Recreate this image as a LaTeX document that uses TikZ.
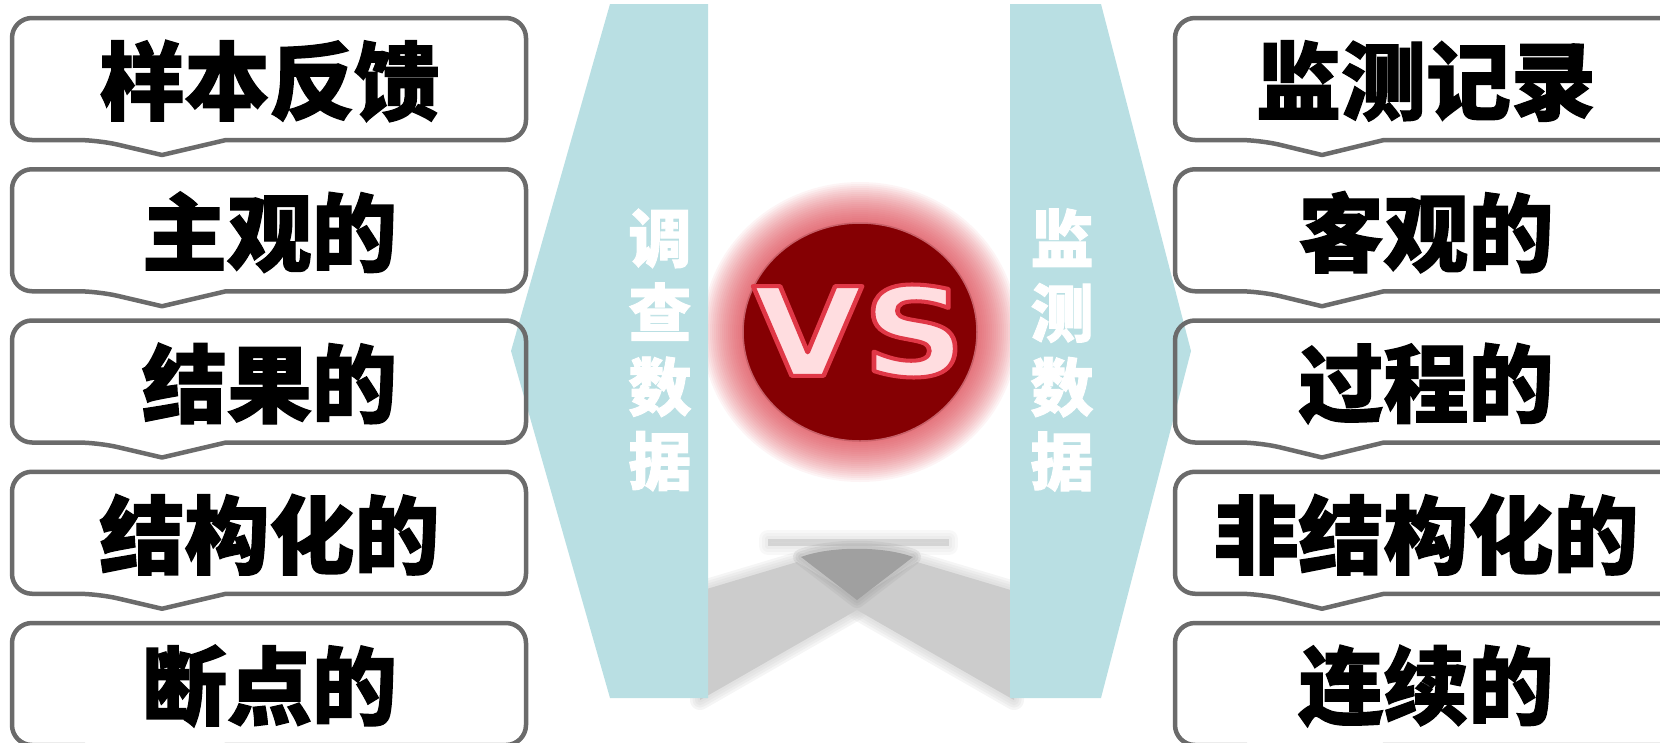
\documentclass[tikz,border=0pt]{standalone}
\usepackage{fontspec}
\newfontfamily\cjk{Noto Sans CJK SC}[BoldFeatures={FakeBold=1.5}]
\newfontfamily\vsfont{DejaVu Sans}
\definecolor{boxgray}{HTML}{6B6B6B}
\definecolor{paleblue}{HTML}{B9DFE3}
\definecolor{vsred}{HTML}{850003}
\definecolor{vsrim}{HTML}{C86068}
\definecolor{glowred}{HTML}{D8303C}
\definecolor{vspink}{HTML}{FFDDE0}
\definecolor{shlight}{HTML}{CCCCCC}
\definecolor{shstrip}{HTML}{C4C4C4}
\definecolor{shdark}{HTML}{A0A0A0}
\newcommand\vsglow[1]{\special{pdf:literal direct 2 Tr 4 w 1 j 0.88 0.22 0.28 RG}#1\special{pdf:literal direct 0 Tr}}
\tikzset{
  boxline/.style={draw=boxgray, line width=4.5pt, line join=round},
  boxtext/.style={font=\cjk\bfseries\fontsize{85}{85}\selectfont, text=black, inner sep=0pt},
  sidetext/.style={font=\cjk\bfseries\fontsize{63}{74.3}\selectfont, text=white, align=center, inner sep=0pt},
  vstext/.style={font=\vsfont\bfseries\fontsize{123}{123}\selectfont, inner sep=0pt},
  softedge/.style={line join=round},
}
\begin{document}
\begin{tikzpicture}[x=1pt,y=-1pt]
\useasboundingbox (0,0) rectangle (1660,742);
\clip (0,0) rectangle (1660,742);
% ---- shadow below the VS ----
\fill[shlight] (700,591) -- (797,562) -- (857,598) -- (857,610) -- (700,700) -- cycle;
\fill[shlight] (1014,591) -- (917,562) -- (857,598) -- (857,610) -- (1014,700) -- cycle;
\foreach \w in {20,15,10,5}{
  \draw[shlight, line width=\w pt, opacity=0.2, softedge] (700,591) -- (797,562) -- (857,598) -- (857,610) -- (700,700) -- cycle;
  \draw[shlight, line width=\w pt, opacity=0.2, softedge] (1014,591) -- (917,562) -- (857,598) -- (857,610) -- (1014,700) -- cycle;
}
\fill[shstrip, opacity=0.6] (768,539) -- (949,539) -- (949,546) -- (768,546) -- cycle;
\foreach \w in {18,12,6}{
  \draw[shstrip, line width=\w pt, opacity=0.12, softedge] (768,539) -- (949,539) -- (949,546) -- (768,546) -- cycle;
}
\fill[shdark] (801,557) .. controls (830,546) and (884,546) .. (913,557) -- (857,600) -- cycle;
\foreach \w in {16,11,6}{
  \draw[shdark, line width=\w pt, opacity=0.2, softedge] (801,557) .. controls (830,546) and (884,546) .. (913,557) -- (857,600) -- cycle;
}
% ---- glow of the VS disc ----
\foreach \r in {1,3,...,41}{
  \fill[glowred, opacity=0.05] (860,332) ellipse [x radius=117+\r, y radius=109+\r];
}
% ---- pale blue chevrons ----
\fill[paleblue] (610,4) -- (708,4) -- (708,698) -- (610,698) -- (511,351) -- cycle;
\fill[paleblue] (1010,4) -- (1101,4) -- (1191,351) -- (1101,698) -- (1010,698) -- cycle;
% ---- VS disc ----
\fill[vsred] (860,332) ellipse [x radius=117, y radius=109];
\draw[vsrim, line width=1.5pt] (860,332) ellipse [x radius=117, y radius=109];
\node[vstext, text=vspink] (vs) at (859,331) {\scalebox{1.16}[1]{\vsglow{VS}}};
% ---- side labels ----
\node[sidetext] (ls) at (660,350) {调\\查\\数\\据};
\node[sidetext] (rs) at (1062,350) {监\\测\\数\\据};
% ---- boxes ----
\foreach \i in {0,...,4}{
  \pgfmathsetmacro\T{18+151.25*\i}
  \pgfmathsetmacro\B{\T+122}
  \draw[boxline, rounded corners=20pt] (226,\B) -- (526,\B) -- (526,\T) -- (12,\T) -- (12,\B) -- (98,\B) [sharp corners] -- (162,\B+15) -- cycle;
  \draw[boxline, rounded corners=20pt] (1384,\B) -- (1690,\B) -- (1690,\T) -- (1175,\T) -- (1175,\B) -- (1260,\B) [sharp corners] -- (1322,\B+15) -- cycle;
}
% ---- box texts ----
\node[boxtext] (l1) at (269.5,81) {样本反馈};
\node[boxtext] (l2) at (269.5,232.25) {主观的};
\node[boxtext] (l3) at (269.5,383.5) {结果的};
\node[boxtext] (l4) at (269.5,534.75) {结构化的};
\node[boxtext] (l5) at (269.5,686) {断点的};
\node[boxtext] (r1) at (1426,81) {监测记录};
\node[boxtext] (r2) at (1426,232.25) {客观的};
\node[boxtext] (r3) at (1426,383.5) {过程的};
\node[boxtext] (r4) at (1426,534.75) {非结构化的};
\node[boxtext] (r5) at (1426,686) {连续的};
\end{tikzpicture}
\end{document}
